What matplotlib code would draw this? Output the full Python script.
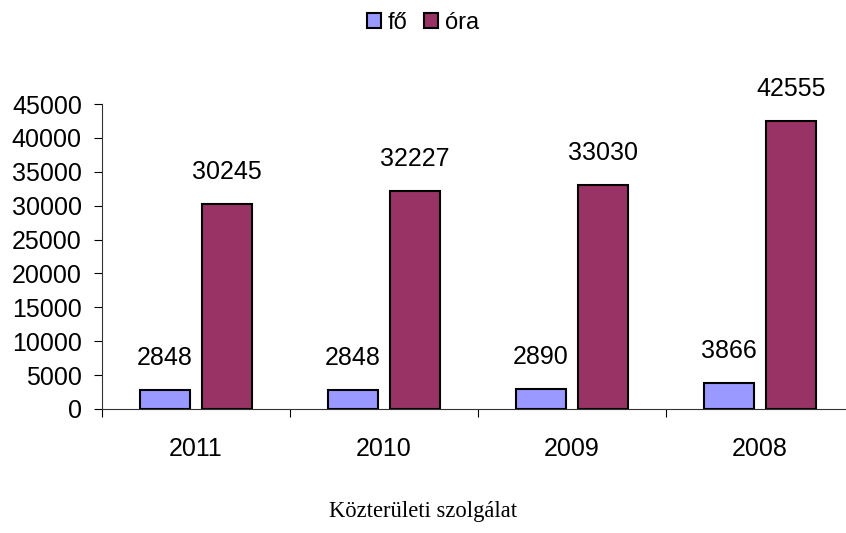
import matplotlib.pyplot as plt
import numpy as np

# Közterületi szolgálat - fő / óra
years = ['2011', '2010', '2009', '2008']
fo = [2848, 2848, 2890, 3866]
ora = [30245, 32227, 33030, 42555]
yticks = list(range(0, 45001, 5000))

plt.rcParams['font.family'] = ['Liberation Sans', 'DejaVu Sans']

fig = plt.figure(figsize=(8.46, 5.33), dpi=100)
ax = fig.add_axes([102/846, 124/533, 752/846, 305/533])

x = np.arange(len(years))
w = 0.266
off = 0.165
b1 = ax.bar(x - off, fo, w, color='#9999FF', edgecolor='black', linewidth=1.5, label='fő')
b2 = ax.bar(x + off, ora, w, color='#993366', edgecolor='black', linewidth=1.5, label='óra')

for bars, vals in [(b1, fo), (b2, ora)]:
    for rect, v in zip(bars, vals):
        ax.annotate(str(v), (rect.get_x() + rect.get_width()/2, v),
                    xytext=(0, 23), textcoords='offset points',
                    ha='center', va='center', fontsize=18)

ax.set_xlim(-0.5, len(years) - 0.5)
ax.set_ylim(0, 45000)
ax.set_yticks(yticks)
ax.tick_params(axis='y', direction='out', length=6, width=0.8, pad=8.5, labelsize=18)

# ticks between categories, labels at the centres
ax.set_xticks(np.arange(len(years) + 1) - 0.5)
ax.set_xticklabels([])
ax.set_xticks(x, minor=True)
ax.set_xticklabels(years, minor=True, fontsize=18)
ax.tick_params(axis='x', which='major', direction='out', length=6, width=0.8)
ax.tick_params(axis='x', which='minor', length=0, pad=20)

for s in ['top', 'right']:
    ax.spines[s].set_visible(False)
for s in ['left', 'bottom']:
    ax.spines[s].set_linewidth(0.8)
    ax.spines[s].set_color('#333333')

ax.legend(loc='center', bbox_to_anchor=(0.5 * 846/752 - 102/752, (533 - 23 - 124) / 305),
          ncol=2, frameon=False, fontsize=17, handlelength=0.6, handleheight=0.6,
          handletextpad=0.3, columnspacing=0.7)

fig.text(0.5, 1 - 512/533, 'Közterületi szolgálat', ha='center', va='center',
         fontsize=16.3, family=['Liberation Serif', 'DejaVu Serif'])

fig.savefig('out.png', dpi=100)
